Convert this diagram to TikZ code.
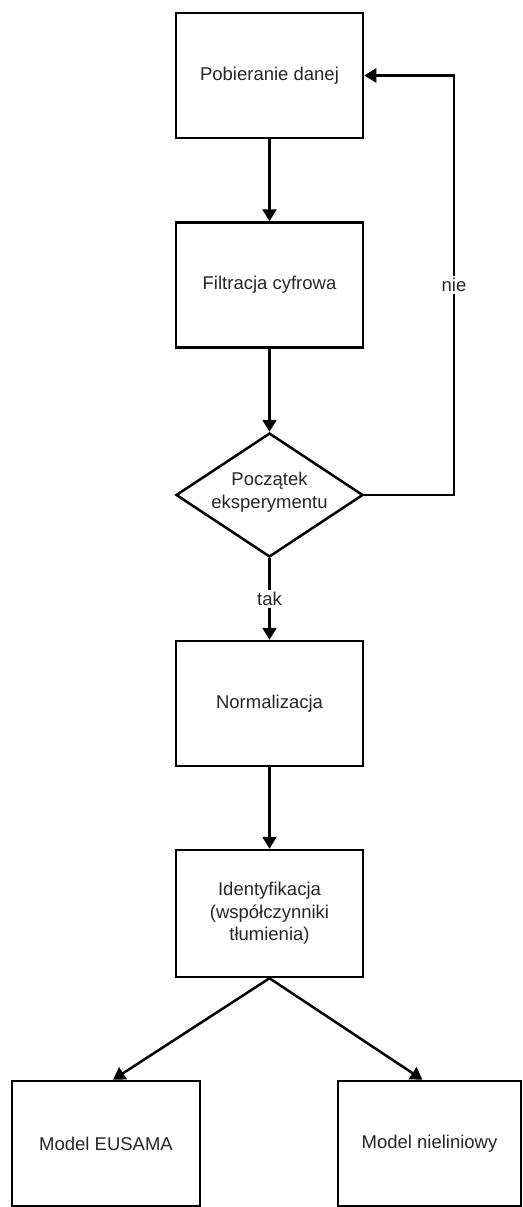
\documentclass[tikz,border=0pt]{standalone}
\usepackage{fontspec}
\setmainfont{Liberation Sans}
\usetikzlibrary{arrows.meta,shapes.geometric,calc}
\begin{document}
\begin{tikzpicture}[x=1pt,y=-1pt,
  txt/.style={font=\fontsize{18.5}{22.5}\selectfont, text=black!85},
  box/.style={draw, line width=2.5pt, minimum height=125pt, inner sep=0pt, align=center, txt},
  arr/.style={line width=2.5pt, -{Triangle[length=12pt,width=14pt]}},
  lbl/.style={fill=white, inner sep=2pt, txt}]
\useasboundingbox (0,0) rectangle (522,1207);
\node[box, minimum width=187pt] (n1) at (269.5,75.5) {Pobieranie danej};
\node[box, minimum width=187pt] (n2) at (269.5,285) {Filtracja cyfrowa};
\node[draw, diamond, line width=2.5pt, minimum width=187pt, minimum height=124pt, aspect=1.5, inner sep=0pt] (d) at (269.5,495) {};
\node[txt, align=center] (dt) at (269.5,492) {Początek\\eksperymentu};
\node[box, minimum width=187pt] (n3) at (269.5,703.5) {Normalizacja};
\node[box, minimum width=187pt, minimum height=127pt] (n4) at (269.5,913.5) {Identyfikacja\\(współczynniki\\tłumienia)};
\node[box, minimum width=188pt] (m1) at (106,1143.5) {Model EUSAMA};
\node[box, minimum width=183pt] (m2) at (429.5,1143.5) {Model nieliniowy};
\coordinate (fb) at (454,0);
\draw[arr] (n1.south) -- (n2.north);
\draw[arr] (n2.south) -- (d.north);
\draw[arr] (d.south) -- node[lbl]{tak} (n3.north);
\draw[arr] (n3.south) -- (n4.north);
\draw[arr] (d.east) -- (d.east -| fb) -- node[lbl]{nie} (n1.east -| fb) -- (n1.east);
\draw[arr] (n4.south) -- ([xshift=7pt]m1.north);
\draw[arr] (n4.south) -- ([xshift=-7pt]m2.north);
\end{tikzpicture}
\end{document}
